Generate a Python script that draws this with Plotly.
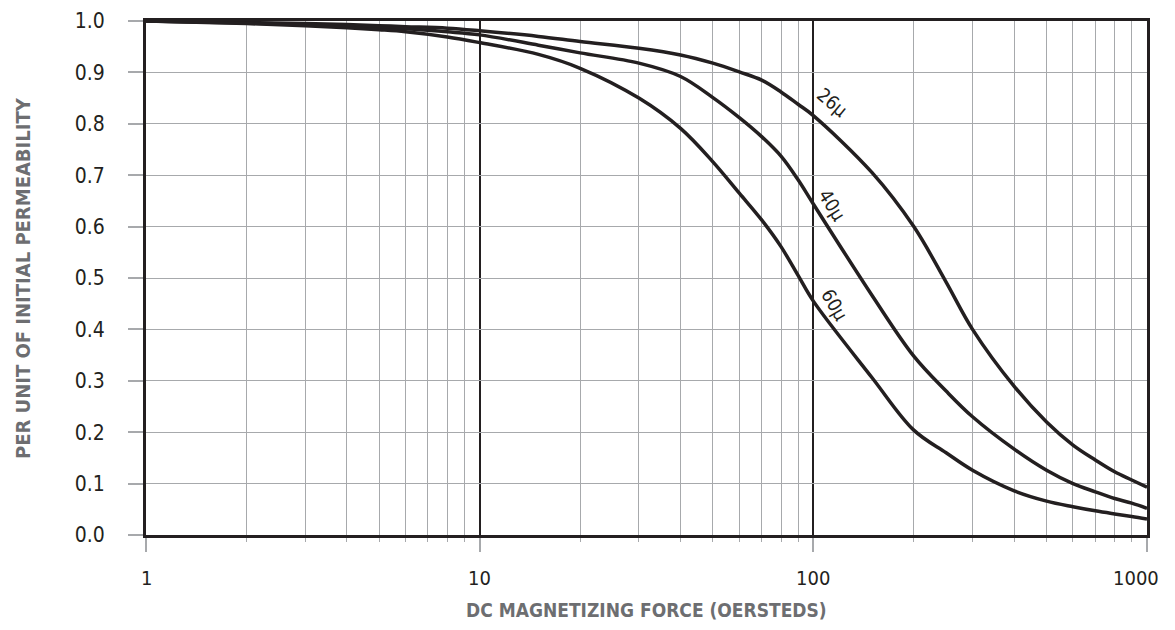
import math
import plotly.graph_objects as go

# DC magnetizing force (oersteds)
H = [1, 2, 3, 4, 5, 6, 8, 10, 15, 20, 30, 40, 50, 60, 70, 80, 90, 100,
     150, 200, 250, 300, 400, 500, 600, 700, 800, 900, 1000]

# per unit of initial permeability
mu26 = [1.0, 0.997, 0.995, 0.993, 0.991, 0.989, 0.986, 0.981, 0.970, 0.960,
        0.947, 0.934, 0.918, 0.901, 0.885, 0.862, 0.838, 0.816, 0.705, 0.600,
        0.492, 0.400, 0.289, 0.220, 0.175, 0.146, 0.123, 0.107, 0.093]
mu40 = [1.0, 0.996, 0.993, 0.990, 0.987, 0.985, 0.979, 0.973, 0.953, 0.938,
        0.918, 0.892, 0.851, 0.812, 0.775, 0.737, 0.691, 0.644, 0.466, 0.348,
        0.280, 0.230, 0.167, 0.126, 0.100, 0.084, 0.071, 0.062, 0.052]
mu60 = [1.0, 0.995, 0.991, 0.987, 0.983, 0.979, 0.969, 0.958, 0.935, 0.908,
        0.850, 0.791, 0.726, 0.665, 0.613, 0.561, 0.505, 0.455, 0.306, 0.204,
        0.160, 0.126, 0.086, 0.066, 0.055, 0.047, 0.041, 0.036, 0.031]

series_names = ["26\u03bc", "40\u03bc", "60\u03bc"]
series_vals = [mu26, mu40, mu60]
# label anchor positions (H, mu) and rotation
label_H = [114, 114, 116]
label_mu = [0.842, 0.642, 0.447]
label_angle = [40, 58, 60]

x_major = [1, 10, 100, 1000]
x_major_text = ["1", "10", "100", "1000"]
x_minor = [m * d for d in (1, 10, 100) for m in range(2, 10)]
y_ticks = [i / 10 for i in range(11)]

X_TITLE = "DC MAGNETIZING FORCE (OERSTEDS)"
Y_TITLE = "PER UNIT OF INITIAL PERMEABILITY"

FONT = "DejaVu Sans Condensed, Liberation Sans Narrow, Arial Narrow, sans-serif"
INK = "#231f20"
GRID = "#a7a9ac"
TITLE = "#6d6e71"

fig = go.Figure()
for name, vals in zip(series_names, series_vals):
    fig.add_trace(go.Scatter(
        x=H, y=vals, mode="lines", name=name,
        line=dict(color=INK, width=3.5, shape="spline", smoothing=1.0),
        showlegend=False, hoverinfo="skip"))

for name, hx, my, ang in zip(series_names, label_H, label_mu, label_angle):
    fig.add_annotation(x=math.log10(hx), y=my, xref="x", yref="y",
                       text=name, showarrow=False, textangle=ang,
                       font=dict(family=FONT, size=19, color=INK))

# x tick labels (last one kept inside the page edge)
for i, (v, t) in enumerate(zip(x_major, x_major_text)):
    last = i == len(x_major) - 1
    fig.add_annotation(x=math.log10(v), y=0, xref="x", yref="paper",
                       xanchor="right" if last else "center",
                       xshift=14 if last else 0,
                       yanchor="middle", yshift=-43,
                       text=t, showarrow=False,
                       font=dict(family=FONT, size=20, color=INK))

# axis titles
fig.add_annotation(x=0.5, y=0, xref="paper", yref="paper",
                   xanchor="center", yanchor="middle", yshift=-75,
                   text="<b>" + X_TITLE + "</b>", showarrow=False,
                   font=dict(family=FONT, size=19, color=TITLE))
fig.add_annotation(x=0, y=0.5, xref="paper", yref="paper",
                   xanchor="center", yanchor="middle", xshift=-123,
                   text="<b>" + Y_TITLE + "</b>", showarrow=False, textangle=-90,
                   font=dict(family=FONT, size=20, color=TITLE))

fig.update_xaxes(
    type="log", range=[0, 3], automargin=False,
    tickvals=x_major, showticklabels=False,
    ticks="outside", ticklen=14, tickwidth=2, tickcolor=GRID,
    showgrid=True, gridcolor=INK, gridwidth=1.5,
    minor=dict(tickvals=x_minor, showgrid=True, gridcolor=GRID, gridwidth=1,
               ticks="outside", ticklen=4, tickcolor=GRID, tickwidth=1),
    showline=True, mirror=True, linecolor=INK, linewidth=3,
    zeroline=False,
)
fig.update_yaxes(
    range=[0, 1.0], automargin=False, tickvals=y_ticks, tickformat=".1f",
    ticks="outside", ticklen=15, tickwidth=2, tickcolor=GRID,
    ticklabelstandoff=19,
    showgrid=True, gridcolor=GRID, gridwidth=1,
    showline=True, mirror=True, linecolor=INK, linewidth=3,
    zeroline=False,
    tickfont=dict(family=FONT, size=21, color=INK),
)
fig.update_layout(
    width=1159, height=614,
    margin=dict(l=138, r=20, t=13, b=87),
    paper_bgcolor="white", plot_bgcolor="white",
)
fig.write_html("out.html")
